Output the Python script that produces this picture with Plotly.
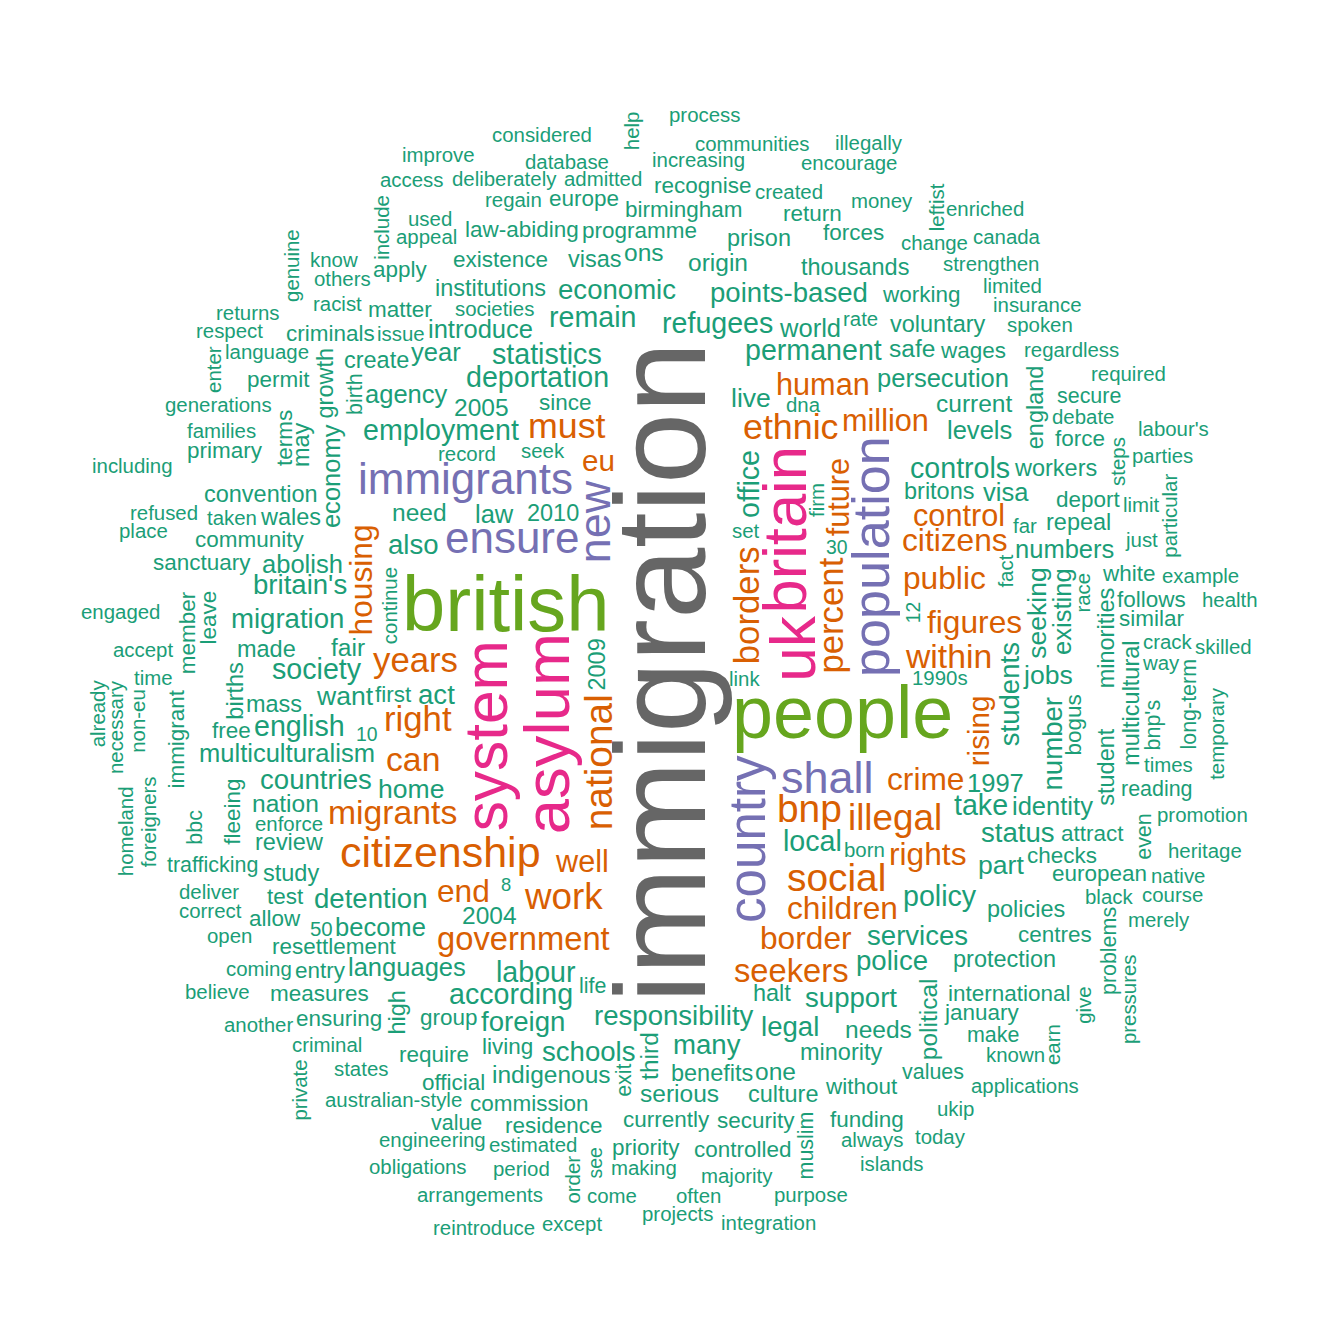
import re
import numpy as np
import plotly.graph_objects as go

# word frequencies (font size grows linearly with frequency)
words = [
    "immigration", "british", "people", "asylum", "uk", "britain", "system", "population", "country", "new",
    "shall", "immigrants", "ensure", "citizenship", "social", "bnp", "national", "illegal", "work", "ethnic",
    "must", "years", "right", "percent", "borders", "within", "can", "migrants", "government", "seekers",
    "children", "border", "crime", "rights", "figures", "public", "citizens", "housing", "end", "control",
    "million", "human", "well", "future", "rising", "eu", "statistics", "permanent", "deportation", "employment",
    "labour", "controls", "according", "society", "refugees", "policy", "take", "office", "local", "remain",
    "english", "responsibility", "countries", "detention", "points-based", "migration", "foreign", "schools", "economic", "britain's",
    "many", "legal", "support", "services", "police", "status", "also", "students", "number", "act",
    "jobs", "home", "live", "want", "part", "seeking", "multiculturalism", "introduce", "identity", "law",
    "agency", "abolish", "persecution", "languages", "1997", "visa", "world", "become", "numbers", "levels",
    "year", "existing", "economy", "indigenous", "2004", "2005", "current", "serious", "one", "fair",
    "nation", "need", "needs", "origin", "safe", "ons", "political", "third", "voluntary", "minority",
    "institutions", "review", "protection", "wales", "policies", "britons", "2010", "repeal", "thousands", "made",
    "visas", "culture", "study", "benefits", "mass", "prison", "convention", "create", "workers", "halt",
    "student", "may", "high", "2009", "minorities", "growth", "england", "multicultural", "births", "community",
    "deport", "require", "programme", "commission", "currently", "security", "working", "without", "checks", "international",
    "birmingham", "centres", "wages", "existence", "law-abiding", "forces", "living", "europe", "matter", "test",
    "resettlement", "european", "apply", "white", "residence", "entry", "first", "fleeing", "group", "force",
    "since", "terms", "return", "leave", "ensuring", "similar", "measures", "criminals", "priority", "january",
    "recognise", "member", "primary", "attract", "free", "allow", "controlled", "sanctuary", "permit", "bogus",
    "immigrant", "follows", "official", "funding", "make", "muslim", "bbc", "exit", "reading", "life",
    "trafficking", "secure", "values", "problems", "bnp's", "birth", "value", "even", "long-term", "particular",
    "estimated", "created", "societies", "spoken", "link", "admitted", "insurance", "taken", "appeal", "states",
    "debate", "regain", "criminal", "continue", "australian-style", "making", "language", "strengthen", "change", "regardless",
    "enforce", "increasing", "times", "record", "generations", "1990s", "racist", "others", "correct", "open",
    "set", "coming", "money", "deliberately", "crack", "majority", "period", "engineering", "always", "database",
    "come", "often", "used", "deliver", "issue", "accept", "order", "ukip", "islands", "known",
    "black", "limited", "rate", "purpose", "families", "projects", "applications", "way", "parties", "limit",
    "today", "encourage", "steps", "include", "fact", "know", "give", "communities", "labour's", "leftist",
    "canada", "help", "example", "arrangements", "process", "seek", "promotion", "just", "refused", "considered",
    "merely", "engaged", "improve", "obligations", "integration", "enriched", "required", "time", "born", "earn",
    "non-eu", "temporary", "foreigners", "necessary", "genuine", "heritage", "course", "returns", "respect", "including",
    "another", "enter", "place", "illegally", "firm", "believe", "native", "race", "private", "pressures",
    "already", "homeland", "skilled", "except", "access", "far", "50", "dna", "health", "reintroduce",
    "see", "12", "30", "10", "8",
]

freq = [
    110, 61, 57, 47, 46, 45, 44, 36, 35, 29,
    29, 28, 28, 27, 23, 23, 23, 21, 21, 20,
    20, 19, 19, 19, 19, 18, 18, 18, 17, 17,
    16, 16, 16, 16, 16, 16, 16, 16, 16, 15,
    15, 15, 15, 15, 14, 14, 13, 13, 13, 13,
    13, 13, 13, 13, 13, 13, 13, 13, 13, 13,
    13, 12, 12, 12, 12, 12, 12, 12, 12, 12,
    12, 12, 12, 12, 12, 12, 12, 12, 12, 12,
    11, 11, 11, 11, 11, 11, 10, 10, 10, 10,
    10, 10, 10, 10, 10, 10, 10, 10, 10, 10,
    10, 10, 10, 9, 9, 9, 9, 9, 9, 9,
    9, 9, 9, 9, 9, 9, 9, 9, 8, 8,
    8, 8, 8, 8, 8, 8, 8, 8, 8, 8,
    8, 8, 8, 8, 8, 8, 8, 8, 8, 8,
    8, 8, 8, 8, 8, 8, 8, 8, 8, 7,
    7, 7, 7, 7, 7, 7, 7, 7, 7, 7,
    7, 7, 7, 7, 7, 7, 7, 7, 7, 7,
    7, 7, 7, 7, 7, 7, 7, 7, 7, 7,
    7, 7, 7, 7, 7, 7, 7, 7, 7, 7,
    7, 7, 7, 7, 7, 7, 7, 7, 7, 7,
    7, 7, 7, 7, 6, 6, 6, 6, 6, 6,
    6, 6, 6, 6, 6, 6, 6, 6, 6, 5,
    5, 5, 5, 5, 5, 5, 5, 5, 5, 5,
    5, 5, 5, 5, 5, 5, 5, 5, 5, 5,
    5, 5, 5, 5, 5, 5, 5, 5, 5, 5,
    5, 5, 5, 5, 5, 5, 5, 5, 5, 5,
    5, 5, 5, 5, 5, 5, 5, 5, 5, 5,
    5, 5, 5, 5, 5, 5, 5, 5, 5, 5,
    5, 5, 5, 5, 5, 5, 5, 5, 5, 5,
    5, 5, 5, 5, 5, 5, 5, 5, 5, 5,
    5, 5, 5, 5, 5, 5, 5, 5, 5, 5,
    5, 5, 5, 5, 5, 5, 5, 5, 5, 5,
    5, 5, 5, 5, 5, 5, 5, 5, 5, 5,
    5, 5, 5, 5, 5, 5, 5, 5, 5, 5,
    4, 4, 4, 4, 3,
]

# words drawn turned 90 degrees
rotated_words = [
    "immigration", "system", "country", "asylum", "britain", "uk", "new", "population", "percent",
    "national", "borders", "housing", "rising", "future", "office", "muslim", "bbc", "political", "12",
    "particular", "continue", "see", "order", "fleeing", "student", "may", "existing", "third", "terms",
    "exit", "leave", "births", "economy", "steps", "include", "fact", "give", "leftist", "member", "help",
    "high", "2009", "long-term", "enter", "firm", "students", "minorities", "growth", "seeking", "bogus",
    "race", "private", "pressures", "number", "england", "multicultural", "problems", "immigrant", "bnp's",
    "already", "homeland", "birth", "earn", "non-eu", "temporary", "even", "foreigners", "necessary", "genuine",
]

assert len(words) == len(freq)

dark2 = ["#1B9E77", "#D95F02", "#7570B3", "#E7298A", "#66A61E", "#E6AB02", "#A6761D", "#666666"]

# helvetica advance widths, 1/1000 em
glyph_w = {c: 556 for c in "abdeghnopqu0123456789"}
glyph_w.update({"c": 500, "k": 500, "s": 500, "v": 500, "x": 500, "y": 500, "z": 500,
                "f": 278, "t": 278, "i": 222, "j": 222, "l": 222, "r": 333, "m": 833,
                "w": 722, "'": 191, "-": 333})


def em_width(w):
    return sum(glyph_w.get(c, 556) for c in w) / 1000.0


unit = 1344 / 1.08          # px per plot unit (R pads [0,1] by 4% each side)
big, small = 128.0, 15.3    # font px at max freq / intercept
nf = np.array(freq, float) / max(freq)
px = small + (big - small) * nf
pad = 1.0 / unit

# spiral layout, same idea as wordcloud(random.order=FALSE)
rng = np.random.default_rng(2091)
t_step, r_step = 0.1, 0.05
steps = np.arange(int(0.8 / (r_step * t_step / (2 * np.pi))))
radius = steps * r_step * t_step / (2 * np.pi)

boxes = np.empty((0, 4))
annotations = []
for i in np.argsort(-nf, kind="stable"):
    word = words[i]
    rot = word in rotated_words
    w = em_width(word) * px[i] / unit
    h = 0.716 * px[i] / unit
    tails = re.search("[gjpqy]", word) is not None
    if tails:
        h *= 1.2
    if rot:
        w, h = h, w
    theta = rng.uniform(0, 2 * np.pi) + steps * t_step
    cx = 0.5 + radius * np.cos(theta)
    cy = 0.5 + radius * np.sin(theta)
    x0, x1 = cx - w / 2 - pad, cx + w / 2 + pad
    y0, y1 = cy - h / 2 - pad, cy + h / 2 + pad
    ok = (x0 > 0) & (y0 > 0) & (x1 < 1) & (y1 < 1)
    if len(boxes):
        hit = ((x0[:, None] < boxes[:, 2]) & (x1[:, None] > boxes[:, 0]) &
               (y0[:, None] < boxes[:, 3]) & (y1[:, None] > boxes[:, 1])).any(axis=1)
        ok &= ~hit
    if not ok.any():
        continue
    k = int(np.argmax(ok))
    boxes = np.vstack([boxes, [x0[k], y0[k], x1[k], y1[k]]])

    # centre the ink like R does, not the line box
    top = 0.716 if re.search("[bdfhijklt0-9']", word) else 0.519
    bottom = -0.21 if tails else 0.0
    shift = (0.3465 - (top + bottom) / 2) * px[i]

    annotations.append(dict(
        x=cx[k], y=cy[k], xref="x", yref="y", text=word, showarrow=False,
        textangle=-90 if rot else 0,
        xanchor="center", yanchor="middle",
        xshift=-shift if rot else 0, yshift=0 if rot else shift,
        font=dict(family="Liberation Sans, Arial, Helvetica, sans-serif",
                  size=float(px[i]), color=dark2[int(np.ceil(8 * nf[i])) - 1]),
    ))

fig = go.Figure()
fig.update_layout(
    width=1344, height=1344,
    margin=dict(l=0, r=0, t=0, b=0),
    paper_bgcolor="white", plot_bgcolor="white",
    xaxis=dict(range=[-0.04, 1.04], visible=False),
    yaxis=dict(range=[-0.04, 1.04], visible=False),
    showlegend=False,
    annotations=annotations,
)

fig.write_html("out.html", config={"displayModeBar": False},
               post_script="document.body.style.margin='0';")
